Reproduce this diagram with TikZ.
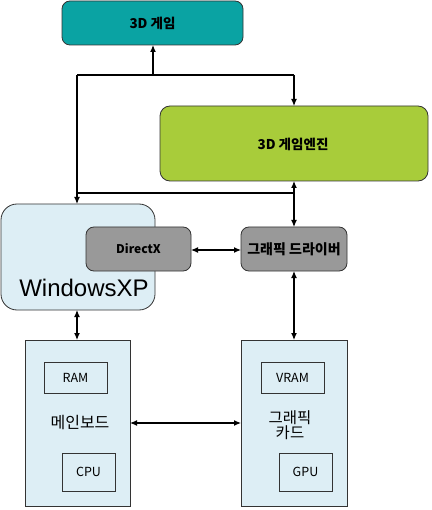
\documentclass[tikz,border=0pt]{standalone}
\usepackage{fontspec}
\setmainfont{Noto Sans CJK KR}
\newfontfamily\winfont{Liberation Sans}
\usetikzlibrary{arrows.meta}
\definecolor{teal3d}{HTML}{0AA3A3}
\definecolor{greeneng}{HTML}{A8CC3A}
\definecolor{lblue}{HTML}{DDEEF5}
\definecolor{gbox}{HTML}{999999}
\tikzset{
  rbox/.style={draw=black!80, line width=0.8pt, rounded corners=8pt},
  sbox/.style={draw=black!80, line width=0.8pt},
  inbox/.style={draw=black!80, line width=0.8pt, font=\fontsize{12.5}{14}\selectfont},
  conn/.style={line width=1.2pt, -{Latex[length=7pt,width=6pt]}},
  conn2/.style={line width=1.2pt, {Latex[length=7pt,width=6pt]}-{Latex[length=7pt,width=6pt]}},
  plain/.style={line width=1.2pt},
}
\begin{document}
\begin{tikzpicture}[x=1pt,y=-1pt]
\useasboundingbox (0,0) rectangle (431,510);
% boxes
\draw[rbox, fill=teal3d] (62,1) rectangle (243,45);
\node[font=\bfseries\fontsize{13.5}{15}\selectfont] (game) at (152.5,23) {3D 게임};
\coordinate (gameS) at (153,45);
\draw[rbox, fill=greeneng, rounded corners=10pt] (160,106) rectangle (428,181);
\node[font=\bfseries\fontsize{13.5}{15}\selectfont] (engine) at (293,144) {3D 게임엔진};
\coordinate (engN) at (294,106);
\coordinate (engS) at (294,181);
\draw[rbox, fill=lblue, rounded corners=16pt] (1,204) rectangle (155,310);
\node[font=\winfont\fontsize{24}{27}\selectfont, anchor=base] (win) at (84,296) {WindowsXP};
\coordinate (winN) at (77,204);
\coordinate (winS) at (77,310);
\draw[rbox, fill=gbox] (86,227) rectangle (191,271);
\node[font=\bfseries\fontsize{12}{14}\selectfont] (dx) at (138.5,249) {DirectX};
\coordinate (dxE) at (191,250);
\draw[rbox, fill=gbox] (241,227) rectangle (347,271);
\node[font=\bfseries\fontsize{14}{16}\selectfont, inner sep=0pt] (drv) at (294,249) {그래픽 드라이버};
\coordinate (drvW) at (241,250);
\coordinate (drvN) at (294,227);
\coordinate (drvS) at (294,271);
% main board
\draw[sbox, fill=lblue] (25,340) rectangle (130,506);
\node[inbox, minimum width=63pt, minimum height=31pt] (ram) at (75.5,377.5) {RAM};
\node[font=\fontsize{16}{18}\selectfont] (mb) at (80,423) {메인보드};
\node[inbox, minimum width=53pt, minimum height=38pt] (cpu) at (88.5,472) {CPU};
\coordinate (mbN) at (77,340);
\coordinate (mbE) at (130,423);
% graphics card
\draw[sbox, fill=lblue] (241,340) rectangle (347,506);
\node[inbox, minimum width=63pt, minimum height=31pt] (vram) at (292.5,377.5) {VRAM};
\node[font=\fontsize{15.5}{18}\selectfont, align=center] (gc) at (290,425) {그래픽\\[-3pt]카드};
\node[inbox, minimum width=53pt, minimum height=38pt] (gpu) at (305.5,472) {GPU};
\coordinate (gcN) at (294,340);
\coordinate (gcW) at (241,423);
% connectors
\coordinate (j1) at (153,75);
\coordinate (c1l) at (77,75);
\coordinate (c1r) at (294,75);
\coordinate (c2l) at (77,193);
\coordinate (c2r) at (294,193);
\draw[plain] (c1l) -- (c1r);
\draw[conn] (j1) -- (gameS);
\draw[conn] (c1r) -- (engN);
\draw[conn] (c1l) -- (winN);
\draw[plain] (c2l) -- (c2r);
\draw[conn] (c2r) -- (engS);
\draw[conn] (c2r) -- (drvN);
\draw[conn2] (dxE) -- (drvW);
\draw[conn2] (winS) -- (mbN);
\draw[conn2] (drvS) -- (gcN);
\draw[conn2] (mbE) -- (gcW);
\end{tikzpicture}
\end{document}
